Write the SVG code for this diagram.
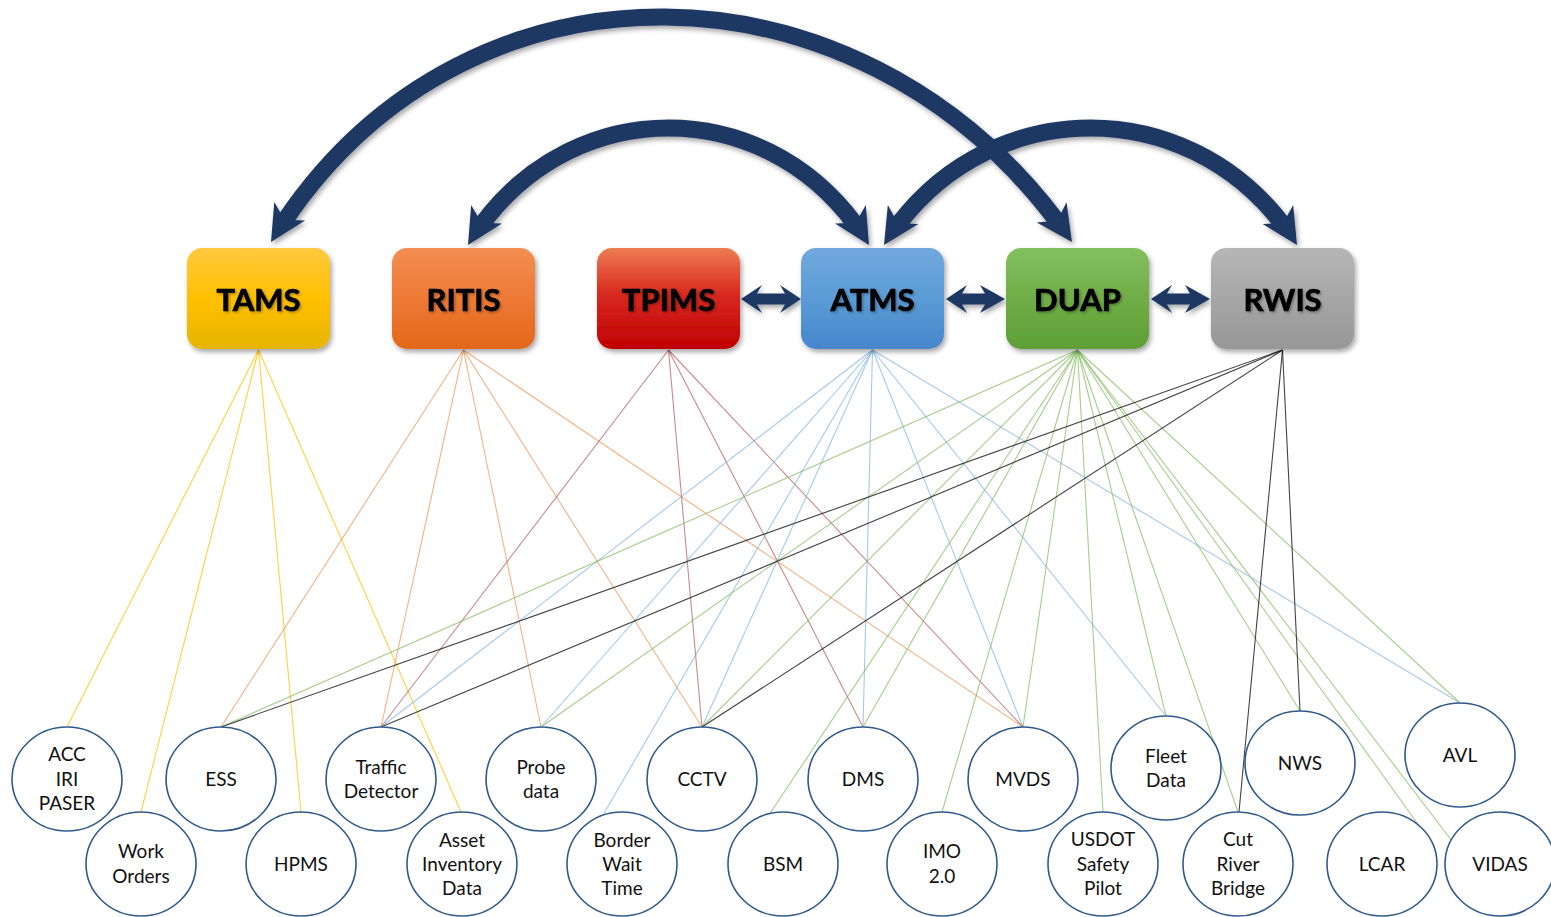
<svg xmlns="http://www.w3.org/2000/svg" width="1551" height="917" viewBox="0 0 1551 917">
<defs>
<style>
.box{stroke:none}
.bl{font-family:Lato,"Liberation Sans",sans-serif;font-weight:bold;font-size:31px;fill:#000;stroke:#000;stroke-width:0.7;text-anchor:middle}
.node ellipse{fill:#fff;stroke:#2F5A8C;stroke-width:1.6}
.nt{font-family:Lato,"Liberation Sans",sans-serif;font-size:19px;fill:#111;text-anchor:middle}
.arc{fill:none;stroke:#1F3864;stroke-width:17}
.c line{stroke-width:1.1;fill:none}
.y{stroke:#FFC000;stroke-opacity:.75}
.o{stroke:#ED7D31;stroke-opacity:.6}
.r{stroke:#A63A3A;stroke-opacity:.6}
.b{stroke:#7FB2E0;stroke-opacity:.7}
.g{stroke:#7DB95A;stroke-opacity:.7}
.k{stroke:#222;stroke-opacity:.85}
.da{fill:#1F3864}
</style>
<linearGradient id="gT" x1="0" y1="0" x2="0" y2="1"><stop offset="0" stop-color="#FFC93F"/><stop offset=".5" stop-color="#FFC000"/><stop offset="1" stop-color="#E6B400"/></linearGradient>
<linearGradient id="gR" x1="0" y1="0" x2="0" y2="1"><stop offset="0" stop-color="#F28E52"/><stop offset=".5" stop-color="#EE7A36"/><stop offset="1" stop-color="#E2671A"/></linearGradient>
<linearGradient id="gP" x1="0" y1="0" x2="0" y2="1"><stop offset="0" stop-color="#EE7C52"/><stop offset=".45" stop-color="#D82A20"/><stop offset="1" stop-color="#C00000"/></linearGradient>
<linearGradient id="gA" x1="0" y1="0" x2="0" y2="1"><stop offset="0" stop-color="#70A8DE"/><stop offset=".5" stop-color="#5B9BD5"/><stop offset="1" stop-color="#4686CC"/></linearGradient>
<linearGradient id="gD" x1="0" y1="0" x2="0" y2="1"><stop offset="0" stop-color="#84BF5E"/><stop offset=".5" stop-color="#70AD47"/><stop offset="1" stop-color="#5F9F36"/></linearGradient>
<linearGradient id="gW" x1="0" y1="0" x2="0" y2="1"><stop offset="0" stop-color="#B6B6B6"/><stop offset=".5" stop-color="#A6A6A6"/><stop offset="1" stop-color="#979797"/></linearGradient>
<filter id="sh" x="-20%" y="-20%" width="140%" height="150%"><feDropShadow dx="2" dy="3" stdDeviation="2.5" flood-color="#000" flood-opacity="0.35"/></filter>
<filter id="tsh" x="-10%" y="-20%" width="120%" height="150%"><feDropShadow dx="1.5" dy="1.5" stdDeviation="1" flood-color="#000" flood-opacity="0.3"/></filter>
<marker id="ah" markerUnits="userSpaceOnUse" orient="auto-start-reverse" refX="0" refY="0" markerWidth="40" markerHeight="40" viewBox="-40 -20 40 40" overflow="visible">
<path d="M0,0 L-36,-18 L-26,0 L-36,18 Z" fill="#1F3864"/>
</marker>
</defs>
<rect width="1551" height="917" fill="#fff"/>

<g id="connectors" class="c">
<!-- TAMS -->
<line class="y" x1="258.5" y1="350" x2="67" y2="727"/>
<line class="y" x1="258.5" y1="350" x2="141" y2="812"/>
<line class="y" x1="258.5" y1="350" x2="301" y2="812"/>
<line class="y" x1="258.5" y1="350" x2="461" y2="812"/>
<!-- RITIS -->
<line class="o" x1="463.5" y1="350" x2="221" y2="727"/>
<line class="o" x1="463.5" y1="350" x2="381" y2="727"/>
<line class="o" x1="463.5" y1="350" x2="541" y2="727"/>
<line class="o" x1="463.5" y1="350" x2="702" y2="727"/>
<line class="o" x1="463.5" y1="350" x2="1023" y2="727"/>
<!-- TPIMS -->
<line class="r" x1="668.5" y1="350" x2="381" y2="727"/>
<line class="r" x1="668.5" y1="350" x2="702" y2="727"/>
<line class="r" x1="668.5" y1="350" x2="863" y2="727"/>
<line class="r" x1="668.5" y1="350" x2="1023" y2="727"/>
<!-- ATMS -->
<line class="b" x1="872.5" y1="350" x2="381" y2="727"/>
<line class="b" x1="872.5" y1="350" x2="541" y2="727"/>
<line class="b" x1="872.5" y1="350" x2="603" y2="815"/>
<line class="b" x1="872.5" y1="350" x2="702" y2="727"/>
<line class="b" x1="872.5" y1="350" x2="863" y2="727"/>
<line class="b" x1="872.5" y1="350" x2="1023" y2="727"/>
<line class="b" x1="872.5" y1="350" x2="1166" y2="716"/>
<line class="b" x1="872.5" y1="350" x2="1460" y2="703"/>
<!-- DUAP -->
<line class="g" x1="1077.5" y1="350" x2="221" y2="727"/>
<line class="g" x1="1077.5" y1="350" x2="541" y2="727"/>
<line class="g" x1="1077.5" y1="350" x2="702" y2="727"/>
<line class="g" x1="1077.5" y1="350" x2="769" y2="815"/>
<line class="g" x1="1077.5" y1="350" x2="863" y2="727"/>
<line class="g" x1="1077.5" y1="350" x2="942" y2="812"/>
<line class="g" x1="1077.5" y1="350" x2="1023" y2="727"/>
<line class="g" x1="1077.5" y1="350" x2="1103" y2="812"/>
<line class="g" x1="1077.5" y1="350" x2="1166" y2="716"/>
<line class="g" x1="1077.5" y1="350" x2="1238" y2="812"/>
<line class="g" x1="1077.5" y1="350" x2="1300" y2="711"/>
<line class="g" x1="1077.5" y1="350" x2="1420" y2="827"/>
<line class="g" x1="1077.5" y1="350" x2="1452" y2="841"/>
<line class="g" x1="1077.5" y1="350" x2="1460" y2="703"/>
<!-- RWIS -->
<line class="k" x1="1282.5" y1="350" x2="221" y2="727"/>
<line class="k" x1="1282.5" y1="350" x2="381" y2="727"/>
<line class="k" x1="1282.5" y1="350" x2="702" y2="727"/>
<line class="k" x1="1282.5" y1="350" x2="1300" y2="711"/>
<line class="k" x1="1282.5" y1="350" x2="1239" y2="812"/>
</g>

<g id="arcs" filter="url(#sh)">
<path class="arc" d="M884,245 C981.5,89 1199.5,89 1297,245" pathLength="1000" stroke-dasharray="0 52 896 100" marker-start="url(#ah)" marker-end="url(#ah)"/>
<path class="arc" d="M468,245 C562,89 775,89 869,245" pathLength="1000" stroke-dasharray="0 53 894 100" marker-start="url(#ah)" marker-end="url(#ah)"/>
<path class="arc" d="M271,242 C456,-63 870,-53 1072,242" pathLength="1000" stroke-dasharray="0 27 946 100" marker-start="url(#ah)" marker-end="url(#ah)"/>
</g>

<g id="links" filter="url(#sh)">
<path class="da" d="M741,299 L762,285 L757,293.5 L785,293.5 L780,285 L801,299 L780,313 L785,304.5 L757,304.5 L762,313 Z"/>
<path class="da" d="M946,299 L967,285 L962,293.5 L985,293.5 L980,285 L1005,299 L980,313 L985,304.5 L962,304.5 L967,313 Z"/>
<path class="da" d="M1151,299 L1172,285 L1167,293.5 L1190,293.5 L1185,285 L1210,299 L1185,313 L1190,304.5 L1167,304.5 L1172,313 Z"/>
</g>

<g id="TAMS"><rect class="box" x="187" y="248" width="143" height="101" rx="15" fill="url(#gT)" filter="url(#sh)"/><text class="bl" x="258.5" y="311" filter="url(#tsh)">TAMS</text></g>
<g id="RITIS"><rect class="box" x="392" y="248" width="143" height="101" rx="15" fill="url(#gR)" filter="url(#sh)"/><text class="bl" x="463.5" y="311" filter="url(#tsh)">RITIS</text></g>
<g id="TPIMS"><rect class="box" x="597" y="248" width="143" height="101" rx="15" fill="url(#gP)" filter="url(#sh)"/><text class="bl" x="668.5" y="311" filter="url(#tsh)">TPIMS</text></g>
<g id="ATMS"><rect class="box" x="801" y="248" width="143" height="101" rx="15" fill="url(#gA)" filter="url(#sh)"/><text class="bl" x="872.5" y="311" filter="url(#tsh)">ATMS</text></g>
<g id="DUAP"><rect class="box" x="1006" y="248" width="143" height="101" rx="15" fill="url(#gD)" filter="url(#sh)"/><text class="bl" x="1077.5" y="311" filter="url(#tsh)">DUAP</text></g>
<g id="RWIS"><rect class="box" x="1211" y="248" width="143" height="101" rx="15" fill="url(#gW)" filter="url(#sh)"/><text class="bl" x="1282.5" y="311" filter="url(#tsh)">RWIS</text></g>

<g id="n-acc" class="node"><ellipse cx="67" cy="779" rx="55" ry="52"/><text class="nt" x="67" y="761">ACC</text><text class="nt" x="67" y="786">IRI</text><text class="nt" x="67" y="810">PASER</text></g>
<g id="n-ess" class="node"><ellipse cx="221" cy="779" rx="55" ry="52"/><text class="nt" x="221" y="786">ESS</text></g>
<g id="n-traffic" class="node"><ellipse cx="381" cy="779" rx="55" ry="52"/><text class="nt" x="381" y="774">Traffic</text><text class="nt" x="381" y="798">Detector</text></g>
<g id="n-probe" class="node"><ellipse cx="541" cy="779" rx="55" ry="52"/><text class="nt" x="541" y="774">Probe</text><text class="nt" x="541" y="798">data</text></g>
<g id="n-cctv" class="node"><ellipse cx="702" cy="779" rx="55" ry="52"/><text class="nt" x="702" y="786">CCTV</text></g>
<g id="n-dms" class="node"><ellipse cx="863" cy="779" rx="55" ry="52"/><text class="nt" x="863" y="786">DMS</text></g>
<g id="n-mvds" class="node"><ellipse cx="1023" cy="779" rx="55" ry="52"/><text class="nt" x="1023" y="786">MVDS</text></g>
<g id="n-fleet" class="node"><ellipse cx="1166" cy="768" rx="55" ry="52"/><text class="nt" x="1166" y="763">Fleet</text><text class="nt" x="1166" y="787">Data</text></g>
<g id="n-nws" class="node"><ellipse cx="1300" cy="763" rx="55" ry="52"/><text class="nt" x="1300" y="770">NWS</text></g>
<g id="n-avl" class="node"><ellipse cx="1460" cy="755" rx="55" ry="52"/><text class="nt" x="1460" y="762">AVL</text></g>
<g id="n-work" class="node"><ellipse cx="141" cy="864" rx="55" ry="52"/><text class="nt" x="141" y="858">Work</text><text class="nt" x="141" y="883">Orders</text></g>
<g id="n-hpms" class="node"><ellipse cx="301" cy="864" rx="55" ry="52"/><text class="nt" x="301" y="871">HPMS</text></g>
<g id="n-asset" class="node"><ellipse cx="462" cy="864" rx="55" ry="52"/><text class="nt" x="462" y="847">Asset</text><text class="nt" x="462" y="871">Inventory</text><text class="nt" x="462" y="895">Data</text></g>
<g id="n-border" class="node"><ellipse cx="622" cy="864" rx="55" ry="52"/><text class="nt" x="622" y="847">Border</text><text class="nt" x="622" y="871">Wait</text><text class="nt" x="622" y="895">Time</text></g>
<g id="n-bsm" class="node"><ellipse cx="783" cy="864" rx="55" ry="52"/><text class="nt" x="783" y="871">BSM</text></g>
<g id="n-imo" class="node"><ellipse cx="942" cy="864" rx="55" ry="52"/><text class="nt" x="942" y="858">IMO</text><text class="nt" x="942" y="883">2.0</text></g>
<g id="n-usdot" class="node"><ellipse cx="1103" cy="864" rx="55" ry="52"/><text class="nt" x="1103" y="846">USDOT</text><text class="nt" x="1103" y="871">Safety</text><text class="nt" x="1103" y="895">Pilot</text></g>
<g id="n-cut" class="node"><ellipse cx="1238" cy="864" rx="55" ry="52"/><text class="nt" x="1238" y="846">Cut</text><text class="nt" x="1238" y="871">River</text><text class="nt" x="1238" y="895">Bridge</text></g>
<g id="n-lcar" class="node"><ellipse cx="1382" cy="864" rx="55" ry="52"/><text class="nt" x="1382" y="871">LCAR</text></g>
<g id="n-vidas" class="node"><ellipse cx="1500" cy="864" rx="55" ry="52"/><text class="nt" x="1500" y="871">VIDAS</text></g>
</svg>
